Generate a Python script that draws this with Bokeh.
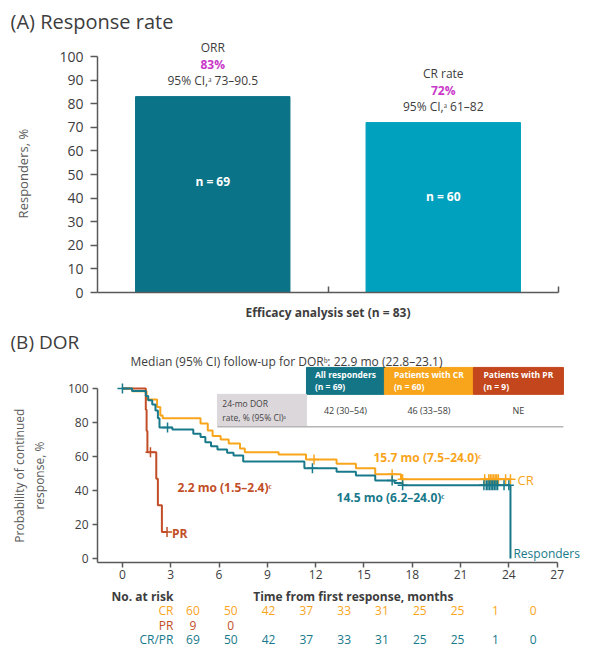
import numpy as np
from bokeh.plotting import figure
from bokeh.models import ColumnDataSource, LabelSet, Label, FixedTicker, Range1d
from bokeh.layouts import column
from bokeh.embed import file_html
from bokeh.resources import INLINE
from bokeh.core.properties import value

FONT = "Open Sans"
TXT = "#3d3d3d"
AXC = "#595959"
TEAL = "#18798a"
ORANGE = "#f9a51c"
RED = "#c24e27"
MAGENTA = "#c938c9"
UP = 1  # sign of y_offset that moves a label upwards
NB = "\u00a0"

# ---------------- data: (A) response rate
categories = ["ORR", "CR rate"]
rates = [83, 72]
rate_texts = ["83%", "72%"]
ci_texts = ["95% CI,ᵃ 73–90.5", "95% CI,ᵃ 61–82"]
n_texts = ["n = 69", "n = 60"]
bar_colors = ["#0b7387", "#00a1be"]
rate_ticks = [0, 10, 20, 30, 40, 50, 60, 70, 80, 90, 100]

# ---------------- data: (B) duration of response (Kaplan-Meier)
all_t = [0, 0.6, 1.45, 1.6, 1.85, 2.05, 2.2, 2.3, 3.1, 4.4, 4.85, 5.15, 5.5, 5.9,
         6.5, 6.9, 7.5, 11.3, 13.3, 14.5, 15.7, 16.9, 17.4, 24.1]
all_s = [100, 98.5, 95.5, 93, 90.6, 87, 82.4, 77, 75.8, 73.3, 71.4, 68.4, 66, 64,
         62.2, 60.6, 57, 53, 51, 48.8, 45.9, 44.3, 43, 0]
all_censor = [0, 2.8, 11.8, 16.75, 17.4, 22.45, 22.6, 22.7, 22.8, 22.9, 23.0, 23.1,
              23.2, 23.3, 23.7, 24.0]

cr_t = [0, 0.6, 1.5, 2.15, 2.35, 2.5, 4.85, 5.3, 5.6, 6.1, 6.6, 7.3, 7.6, 9.7,
        11.4, 13.3, 14.5, 15.7, 17.3]
cr_s = [100, 98.3, 93.5, 89, 84, 82.5, 79.4, 75.3, 72, 70, 67.6, 64.7, 62.4, 61.2,
        58.2, 55.7, 53, 49.5, 46.5]
cr_end = 24.1
cr_censor = [11.9, 16.75, 17.4, 22.5, 22.75, 22.85, 22.95, 23.05, 23.15, 23.25,
             23.35, 23.8, 24.1]

pr_t = [0, 1.45, 1.5, 1.55, 2.1, 2.2, 2.45]
pr_s = [100, 87.5, 75, 62.5, 46.9, 31.3, 15.6]
pr_end = 2.77
pr_censor = [1.74, 2.77]

median_all = "14.5 mo (6.2–24.0)ᶜ"
median_cr = "15.7 mo (7.5–24.0)ᶜ"
median_pr = "2.2 mo (1.5–2.4)ᶜ"

month_ticks = [0, 3, 6, 9, 12, 15, 18, 21, 24, 27]
prob_ticks = [0, 20, 40, 60, 80, 100]
risk_cr = [60, 50, 42, 37, 33, 31, 25, 25, 1, 0]
risk_pr = [9, 0]
risk_all = [69, 50, 42, 37, 33, 31, 25, 25, 1, 0]

table_groups = ["All responders\n(n = 69)", "Patients with CR\n(n = 60)",
                "Patients with PR\n(n = 9)"]
table_rates = ["42 (30–54)", "46 (33–58)", "NE"]
table_colors = ["#137586", "#f8a51b", "#c3461d"]
table_row_label = "24-mo DOR\nrate, % (95% CI)ᵃ"


def lab(p, text, x, y, dx=0, dy=0, size="12px", color=TXT, align="center",
        baseline="middle", style="normal", angle=0.0):
    p.add_layout(Label(x=x, y=y, x_offset=dx, y_offset=UP * dy, text=text,
                       text_font=FONT, text_font_size=size, text_color=color,
                       text_align=align, text_baseline=baseline,
                       text_font_style=style, angle=angle))


def style_axis(ax, tick_out, tick_in, size, standoff):
    ax.axis_line_color = AXC
    ax.axis_line_width = 1.5
    ax.major_tick_line_color = AXC
    ax.major_tick_line_width = 1.5
    ax.major_tick_out = tick_out
    ax.major_tick_in = tick_in
    ax.minor_tick_line_color = None
    ax.major_label_text_font = FONT
    ax.major_label_text_font_size = size
    ax.major_label_text_color = TXT
    ax.major_label_standoff = standoff


def style_axis_label(ax, text, size, color, standoff, style="normal"):
    ax.axis_label = text
    ax.axis_label_text_font = FONT
    ax.axis_label_text_font_size = size
    ax.axis_label_text_font_style = style
    ax.axis_label_text_color = color
    ax.axis_label_standoff = standoff


def style_title(p, text, size):
    p.title.text = text
    p.title.text_font = FONT
    p.title.text_font_size = size
    p.title.text_font_style = "normal"
    p.title.text_color = TXT
    p.title.align = "left"
    p.title.offset = -87
    p.title.standoff = 0


W = 589
LEFT = 97

# =============== (A) ===============
A_PX = 2.36                     # pixels per percentage point
A_FH = 258
xpos = [i + 0.5 for i in range(len(categories))]
src_a = ColumnDataSource(dict(x=xpos, top=rates, color=bar_colors, cat=categories,
                              rate=rate_texts, ci=ci_texts, n=n_texts,
                              ny=[r * 0.565 for r in rates]))

pa = figure(frame_width=461, frame_height=A_FH, x_range=Range1d(0, len(categories)),
            y_range=Range1d(0, A_FH / A_PX), min_border_left=LEFT, min_border_right=31,
            min_border_top=34, min_border_bottom=31, output_backend="svg",
            toolbar_location=None, background_fill_color="white",
            border_fill_color="white")
style_title(pa, "(A) Response rate", "20px")
pa.xgrid.visible = False
pa.ygrid.visible = False
pa.outline_line_color = None

pa.vbar(x="x", top="top", width=0.67, color="color", source=src_a)

for col, dy, colr, st in [("cat", 49, TXT, "normal"), ("rate", 32, MAGENTA, "bold"),
                          ("ci", 16, TXT, "normal")]:
    pa.add_layout(LabelSet(x="x", y="top", text=col, y_offset=UP * dy, source=src_a,
                           text_align="center", text_baseline="middle",
                           text_font=value(FONT), text_font_size=value("12px"),
                           text_color=colr, text_font_style=st))
pa.add_layout(LabelSet(x="x", y="ny", text="n", source=src_a, text_align="center",
                       text_baseline="middle", text_font=value(FONT),
                       text_font_size=value("12px"), text_color="white",
                       text_font_style="bold"))

ya = pa.yaxis[0]
ya.ticker = FixedTicker(ticks=rate_ticks)
ya.bounds = (rate_ticks[0], rate_ticks[-1])
style_axis(ya, 7, 0, "14px", 7)
style_axis_label(ya, "Responders, %" + NB * 6, "13px", "#5a5a5a", 24)

xa = pa.xaxis[0]
xa.ticker = FixedTicker(ticks=[1, 2])
style_axis(xa, 0, 6, "12px", 0)
xa.major_label_text_color = None
style_axis_label(xa, "Efficacy analysis set (n = 83)", "12px", TXT, 11, "bold")

# =============== (B) ===============
X0, Y0 = -1.55, -2.4
B_XPX = 16.1                    # pixels per month
B_YPX = 1.7                     # pixels per percentage point
B_FW = W - LEFT
B_FH = 208
pb = figure(frame_width=B_FW, frame_height=B_FH,
            x_range=Range1d(X0, X0 + B_FW / B_XPX),
            y_range=Range1d(Y0, Y0 + B_FH / B_YPX), min_border_left=LEFT,
            min_border_right=0, min_border_top=31, min_border_bottom=25,
            output_backend="svg", toolbar_location=None,
            background_fill_color="white", border_fill_color="white")
style_title(pb, "(B) DOR", "19px")
pb.xgrid.visible = False
pb.ygrid.visible = False
pb.outline_line_color = None

# 24-month DOR table
cell_x = [5.9, 11.43, 16.27, 21.8, 27.39]
pb.quad(left=cell_x[1:4], right=cell_x[2:5], bottom=96.5, top=112.35,
        color=table_colors)
pb.quad(left=[cell_x[0]], right=[cell_x[1]], bottom=[77.6], top=[96.5],
        color="#dcd7db")
pb.segment(x0=[cell_x[0]], y0=[77.4], x1=[cell_x[4]], y1=[77.4], line_color="#b5b5b5",
           line_width=1.5)
centers = [(cell_x[i + 1] + cell_x[i + 2]) / 2 for i in range(3)]
src_t = ColumnDataSource(dict(x=centers, g=table_groups, r=table_rates,
                              yh=[104.4] * 3, yr=[86.8] * 3))
pb.add_layout(LabelSet(x="x", y="yh", text="g", source=src_t, text_align="center",
                       text_baseline="middle", text_font=value(FONT),
                       text_font_size=value("8.5px"), text_color="white",
                       text_font_style="bold", text_line_height=1.1))
pb.add_layout(LabelSet(x="x", y="yr", text="r", source=src_t, text_align="center",
                       text_baseline="middle", text_font=value(FONT),
                       text_font_size=value("9px"), text_color=TXT))
lab(pb, table_row_label, cell_x[0] + 0.3, 87.0, size="8.5px", align="left",
    color="#444444")


def km_xy(t, s, end=None):
    x, y = list(t), list(s)
    if end is not None:
        x.append(end)
        y.append(s[-1])
    return x, y


def surv_at(t, s, times):
    idx = np.searchsorted(np.array(t), np.array(times), side="right") - 1
    return list(np.array(s)[idx])


cx, cy = km_xy(cr_t, cr_s, cr_end)
px_, py_ = km_xy(pr_t, pr_s, pr_end)
ax_, ay_ = km_xy(all_t, all_s)
pb.step(cx, cy, mode="after", line_color=ORANGE, line_width=2)
pb.step(px_, py_, mode="after", line_color=RED, line_width=2)
pb.step(ax_, ay_, mode="after", line_color=TEAL, line_width=2)

pb.scatter(cr_censor, surv_at(cr_t, cr_s, cr_censor), marker="cross", size=10,
           line_width=1.5, line_color=ORANGE)
pb.scatter(all_censor, surv_at(all_t, all_s, all_censor), marker="cross", size=10,
           line_width=1.5, line_color=TEAL)
pb.scatter(pr_censor, surv_at(pr_t, pr_s, pr_censor), marker="cross", size=10,
           line_width=1.5, line_color=RED)

lab(pb, median_cr, 18.94, 59.4, size="12px", color=ORANGE, style="bold")
lab(pb, median_all, 16.65, 35.9, size="12px", color=TEAL, style="bold")
lab(pb, median_pr, 6.34, 41.8, size="12px", color=RED, style="bold")
lab(pb, "PR", pr_end, pr_s[-1], dx=5, dy=-2, size="12px", color=RED, align="left",
    style="bold")
lab(pb, "CR", cr_end, cr_s[-1], dx=7, dy=-1, size="13px", color=ORANGE, align="left")
lab(pb, "Responders", all_t[-1], 0, dx=3, dy=5, size="12px", color=TEAL, align="left")
lab(pb, "Median (95% CI) follow-up for DORᵇ: 22.9 mo (22.8–23.1)", X0, 100, dx=189,
    dy=27, size="12px")

xb = pb.xaxis[0]
xb.ticker = FixedTicker(ticks=month_ticks)
xb.bounds = (X0, month_ticks[-1])
style_axis(xb, 5, 0, "12px", 2)
yb = pb.yaxis[0]
yb.ticker = FixedTicker(ticks=prob_ticks)
yb.bounds = (Y0, prob_ticks[-1])
style_axis(yb, 5, 0, "12px", 4)
style_axis_label(yb, "Probability of continued" + NB * 11 + "\nresponse, %" + NB * 11,
                 "12px", "#5a5a5a", 17)

# =============== number at risk ===============
R_H = 62
pr_fig = figure(width=W, height=R_H, x_range=Range1d(X0 - LEFT / B_XPX, X0 + B_FW / B_XPX),
                y_range=Range1d(0, R_H), min_border=0, x_axis_location=None,
                y_axis_location=None, output_backend="svg", toolbar_location=None,
                background_fill_color="white", border_fill_color="white")
pr_fig.outline_line_color = None
pr_fig.xgrid.visible = False
pr_fig.ygrid.visible = False

ROW_Y = [53, 39, 24, 10]        # header, CR, PR, CR/PR (pixels from the bottom)
lab(pr_fig, "No. at risk", X0, ROW_Y[0], size="12px", style="bold", align="right")
lab(pr_fig, "Time from first response, months", (X0 + month_ticks[-1]) / 2, ROW_Y[0],
    size="12px", style="bold")
rows = [("CR", risk_cr, ORANGE, ROW_Y[1]), ("PR", risk_pr, RED, ROW_Y[2]),
        ("CR/PR", risk_all, TEAL, ROW_Y[3])]
for name, counts, colr, yy in rows:
    lab(pr_fig, name, X0, yy, size="12px", color=colr, align="right")
    src_r = ColumnDataSource(dict(x=month_ticks[:len(counts)], y=[yy] * len(counts),
                                  t=[str(c) for c in counts]))
    pr_fig.add_layout(LabelSet(x="x", y="y", text="t", source=src_r,
                               text_align="center", text_baseline="middle",
                               text_font=value(FONT), text_font_size=value("12px"),
                               text_color=colr))

layout = column(pa, pb, pr_fig, spacing=0)
open("out.html", "w").write(file_html(layout, INLINE))
